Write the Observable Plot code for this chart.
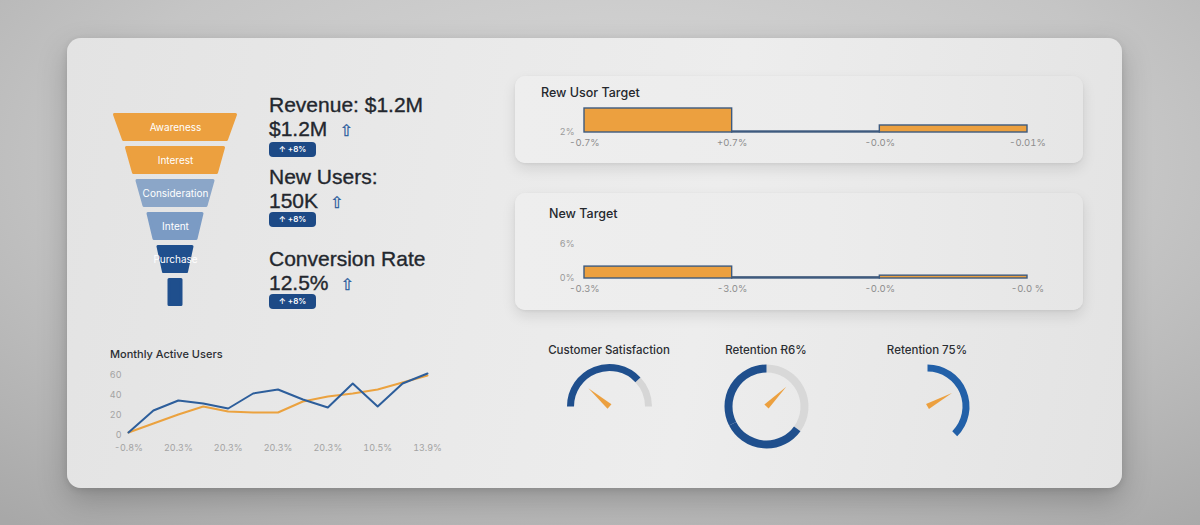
<!DOCTYPE html>
<html>
<head>
<meta charset="utf-8">
<script src="https://cdn.jsdelivr.net/npm/d3@7"></script>
<script src="https://cdn.jsdelivr.net/npm/@observablehq/plot@0.6"></script>
<style>
  html, body { margin: 0; padding: 0; }
  body {
    width: 1200px; height: 525px; overflow: hidden; position: relative;
    font-family: Inter, "Noto Sans", "DejaVu Sans", sans-serif;
    background: radial-gradient(ellipse 80% 90% at 52% 30%, #d9d9d9 0%, #c5c5c5 55%, #a8a8a8 100%);
  }
  .abs { position: absolute; }
  .board {
    left: 67px; top: 38px; width: 1055px; height: 450px; border-radius: 14px;
    background: linear-gradient(100deg, #e3e3e3 0%, #eaeaea 40%, #ededed 60%, #e3e3e3 100%);
    box-shadow: 0 12px 30px rgba(0,0,0,.22), 0 2px 6px rgba(0,0,0,.10);
  }
  .card {
    border-radius: 10px;
    background: linear-gradient(90deg, #eeeeee 0%, #ececec 55%, #e6e6e6 100%);
    box-shadow: 0 6px 14px rgba(0,0,0,.10), 0 1px 3px rgba(0,0,0,.06);
  }
  .kpi {
    font-family: "Liberation Sans", Arial, sans-serif; font-size: 21px; font-weight: 400;
    -webkit-text-stroke: 0.35px #23272e;
    color: #23272e; line-height: 24px; white-space: nowrap; left: 269px;
  }
  .icon { font-family: "DejaVu Sans", sans-serif; font-size: 16px; color: #2a5c9c; -webkit-text-stroke: 0.3px #2a5c9c; margin-left: 12px; }
  .badge {
    left: 269px; width: 47px; height: 15px; border-radius: 4px; background: #1d4a86;
    color: #fff; font-size: 8px; font-weight: 600; line-height: 15px; text-align: center;
  }
  .title { font-size: 12.5px; font-weight: 500; color: #25282d; line-height: 16px; white-space: nowrap; }
  .small-title { font-size: 11px; font-weight: 500; color: #2b2e33; line-height: 14px; white-space: nowrap; }
  .gauge-title { width: 160px; text-align: center; }
  svg { overflow: visible; }
</style>
</head>
<body>
<div class="abs board"></div>
<div class="abs card" style="left:515px;top:76px;width:568px;height:87px;"></div>
<div class="abs card" style="left:515px;top:193px;width:568px;height:117px;"></div>

<div id="funnel" class="abs" style="left:110px;top:105px;"></div>
<div id="kpis"></div>

<div id="t1" class="abs title" style="left:541px;top:85px;"></div>
<div id="userTarget" class="abs" style="left:540px;top:100px;"></div>
<div id="t2" class="abs title" style="left:549px;top:206px;"></div>
<div id="newTarget" class="abs" style="left:540px;top:236px;"></div>

<div id="t3" class="abs small-title" style="left:110px;top:347px;"></div>
<div id="mau" class="abs" style="left:100px;top:362px;"></div>

<div id="gauges"></div>

<script>
// ---- Data ----------------------------------------------------------------
// Funnel stages (widths of each stage at its top and bottom edge)
const funnelStages = ["Awareness", "Interest", "Consideration", "Intent", "Purchase", ""];
const funnelTopWidth = [124, 100, 79, 57, 37, 15];
const funnelBottomWidth = [106, 86, 65, 45, 26, 15];

// KPI tiles
const kpiTitles = ["Revenue: $1.2M", "New Users:", "Conversion Rate"];
const kpiValues = ["$1.2M", "150K", "12.5%"];
const kpiChanges = ["+8%", "+8%", "+8%"];

// Target panels
const userTargetTitle = "Rew Usor Target";
const userTargetTicks = ["-0.7%", "+0.7%", "-0.0%", "-0.01%"];
const userTargetValues = [8, 2.25, 3.75];
const userTargetYTicks = [2];

const newTargetTitle = "New Target";
const newTargetTicks = ["-0.3%", "-3.0%", "-0.0%", "-0.0 %"];
const newTargetValues = [2.1, 0.2, 0.5];
const newTargetYTicks = [0, 6];

// Monthly active users
const mauTitle = "Monthly Active Users";
const mauTickLabels = ["-0.8%", "20.3%", "20.3%", "20.3%", "20.3%", "10.5%", "13.9%"];
const mauActual = [3, 25, 35, 32, 27, 42, 46, 36, 28, 52, 29, 52, 62];
const mauTrend = [3, 12, 21, 29, 24, 23, 23, 34, 39, 42, 46, 53, 60];
const mauYTicks = [0, 20, 40, 60];

// Gauges
const gaugeTitles = ["Customer Satisfaction", "Retention Ɍ6%", "Retention 75%"];
const gaugeValues = [76, 65, 75];
const needleBearings = [-49, 45, 61];

// ---- Styling ---------------------------------------------------------------
const ORANGE = "#eca03f";
const BLUE = "#1f4f8d";
const FONT = "Inter, 'Noto Sans', 'DejaVu Sans', sans-serif";
const baseStyle = {fontFamily: FONT, fontSize: "9px", color: "#8f8f8f", background: "transparent", overflow: "visible"};

// ---- Funnel --------------------------------------------------------------
const stageIndex = d3.range(funnelStages.length);
const funnelRows = stageIndex.flatMap(i => [
  {i, y: i + 0.045, w: funnelTopWidth[i]},
  {i, y: i + 0.805, w: funnelBottomWidth[i]}
]);
document.getElementById("funnel").append(Plot.plot({
  width: 130, height: 210,
  marginTop: 8, marginBottom: 4, marginLeft: 0, marginRight: 0,
  x: {domain: [-65, 65], axis: null},
  y: {domain: [0, 6], reverse: true, axis: null},
  color: {type: "ordinal", domain: stageIndex, range: [ORANGE, ORANGE, "#8ba6c8", "#7b9bc4", BLUE, BLUE]},
  style: baseStyle,
  marks: [
    Plot.areaX(funnelRows, {
      y: "y", x1: d => -d.w / 2 + 1.5, x2: d => d.w / 2 - 1.5,
      z: "i", fill: "i", stroke: "i", strokeWidth: 3, strokeLinejoin: "round"
    }),
    Plot.text(stageIndex, {
      x: 0, y: i => i + 0.43, text: i => funnelStages[i],
      fill: "white", fontSize: 10
    })
  ]
}));

// ---- KPI tiles -----------------------------------------------------------
// Each tile: a two-line block (label, value with trend arrow) and a change badge
const kpiTops = [[92.5, 142], [164.5, 212], [246.5, 294]];
const kpiRoot = document.getElementById("kpis");
kpiTitles.forEach((t, k) => {
  const [a, c] = kpiTops[k];
  const block = document.createElement("div");
  block.className = "abs kpi"; block.style.top = a + "px";
  block.append(t, document.createElement("br"), kpiValues[k]);
  const icon = document.createElement("span");
  icon.className = "icon"; icon.textContent = "⇧";
  block.append(icon);
  const badge = document.createElement("div");
  badge.className = "abs badge"; badge.style.top = c + "px";
  badge.textContent = "↑  " + kpiChanges[k];
  kpiRoot.append(block, badge);
});

// ---- Target panels -------------------------------------------------------
function targetChart(values, tickLabels, yTicks, yDomain, opts) {
  return Plot.plot({
    width: 520, height: opts.height,
    marginLeft: 44, marginRight: 33, marginTop: opts.top, marginBottom: opts.bottom,
    x: {domain: [0, values.length]},
    y: {domain: yDomain},
    style: baseStyle,
    marks: [
      Plot.rect(values, {
        x1: (d, i) => i, x2: (d, i) => i + 1, y1: yDomain[0], y2: d => d,
        fill: ORANGE, stroke: "#3e5a7e", strokeWidth: 1.4
      }),
      Plot.axisX({ticks: d3.range(tickLabels.length), tickFormat: i => tickLabels[i],
        tickSize: 0, tickPadding: 7, fill: "#8d8d8d", fontSize: 9.5, label: null}),
      Plot.axisY({ticks: yTicks, tickFormat: d => `${d}%`,
        tickSize: 0, tickPadding: 10, fill: "#9a9a9a", fontSize: 9, label: null})
    ]
  });
}
document.getElementById("t1").textContent = userTargetTitle;
document.getElementById("userTarget").append(
  targetChart(userTargetValues, userTargetTicks, userTargetYTicks, [2, 9], {height: 55, top: 4, bottom: 23}));
document.getElementById("t2").textContent = newTargetTitle;
document.getElementById("newTarget").append(
  targetChart(newTargetValues, newTargetTicks, newTargetYTicks, [0, 6], {height: 62, top: 8, bottom: 20}));

// ---- Monthly active users ------------------------------------------------
document.getElementById("t3").textContent = mauTitle;
document.getElementById("mau").append(Plot.plot({
  width: 350, height: 95,
  marginLeft: 28, marginRight: 23, marginTop: 13, marginBottom: 22,
  x: {domain: [0, mauActual.length - 1]},
  y: {domain: [0, 60]},
  style: baseStyle,
  marks: [
    Plot.lineY(mauTrend, {x: (d, i) => i, y: d => d, stroke: "#eba23f", strokeWidth: 2}),
    Plot.lineY(mauActual, {x: (d, i) => i, y: d => d, stroke: "#2d5e9b", strokeWidth: 2}),
    Plot.axisX({ticks: d3.range(0, mauActual.length, 2), tickFormat: i => mauTickLabels[i / 2],
      tickSize: 0, tickPadding: 9, fill: "#a3a3a3", fontSize: 9, label: null}),
    Plot.axisY({ticks: mauYTicks, tickSize: 0, tickPadding: 7, fill: "#a3a3a3", fontSize: 9, label: null})
  ]
}));

// ---- Gauges --------------------------------------------------------------
// Each gauge: center on the board, radius, track start bearing, sweep (deg, clockwise),
// fill direction (+1 clockwise from start, -1 counter-clockwise), colours.
const gaugeLayout = [
  {cx: 609, cy: 406, r: 39, start: -90, sweep: 180, dir: 1, width: 7, color: BLUE, track: "#d6d6d6"},
  {cx: 766, cy: 406, r: 38, start: 360, sweep: 360, dir: -1, width: 8, color: BLUE, track: "#d8d8d8"},
  {cx: 927, cy: 406, r: 38.5, start: 0, sweep: 180, dir: 1, width: 7, color: "#2260a8", track: null}
];
const rad = Math.PI / 180;
// Clockwise arc between two bearings, split into pieces of at most 180 degrees
function arcMark(r, b0, b1, options) {
  const n = Math.max(1, Math.ceil((b1 - b0) / 179));
  const step = (b1 - b0) / n;
  const pieces = d3.range(n).map(k => [b0 + k * step, b0 + (k + 1) * step]);
  return Plot.arrow(pieces, {
    x1: p => r * Math.sin(p[0] * rad), y1: p => r * Math.cos(p[0] * rad),
    x2: p => r * Math.sin(p[1] * rad), y2: p => r * Math.cos(p[1] * rad),
    bend: step / 2, headLength: 0, strokeLinecap: "butt", ...options
  });
}
const gaugeRoot = document.getElementById("gauges");
gaugeTitles.forEach((t, k) => {
  const g = gaugeLayout[k];
  const angle = d3.scaleLinear().domain([0, 100]).range([g.start, g.start + g.dir * g.sweep]);
  const vEnd = angle(gaugeValues[k]);
  const trackEnd = angle(100);
  const marks = [];
  if (g.track) {
    const [t0, t1] = d3.extent([vEnd, trackEnd]);
    marks.push(arcMark(g.r, t0, t1, {stroke: g.track, strokeWidth: g.width}));
  }
  const [v0, v1] = d3.extent([g.start, vEnd]);
  marks.push(arcMark(g.r, v0, v1, {stroke: g.color, strokeWidth: g.width}));
  marks.push(Plot.vector([needleBearings[k]], {
    x: 0, y: 0, rotate: d => d, length: 28, shape: "spike", r: 3, anchor: "start", fill: ORANGE
  }));

  const title = document.createElement("div");
  title.className = "abs small-title gauge-title";
  title.style.left = (g.cx - 80) + "px"; title.style.top = "343px";
  title.style.fontSize = "11.5px";
  title.textContent = t;
  gaugeRoot.append(title);

  const holder = document.createElement("div");
  holder.className = "abs";
  holder.style.left = (g.cx - 55) + "px"; holder.style.top = (g.cy - 55) + "px";
  holder.append(Plot.plot({
    width: 110, height: 110, margin: 0,
    x: {domain: [-55, 55], axis: null},
    y: {domain: [-55, 55], axis: null},
    style: baseStyle,
    marks
  }));
  gaugeRoot.append(holder);
});
</script>
</body>
</html>
